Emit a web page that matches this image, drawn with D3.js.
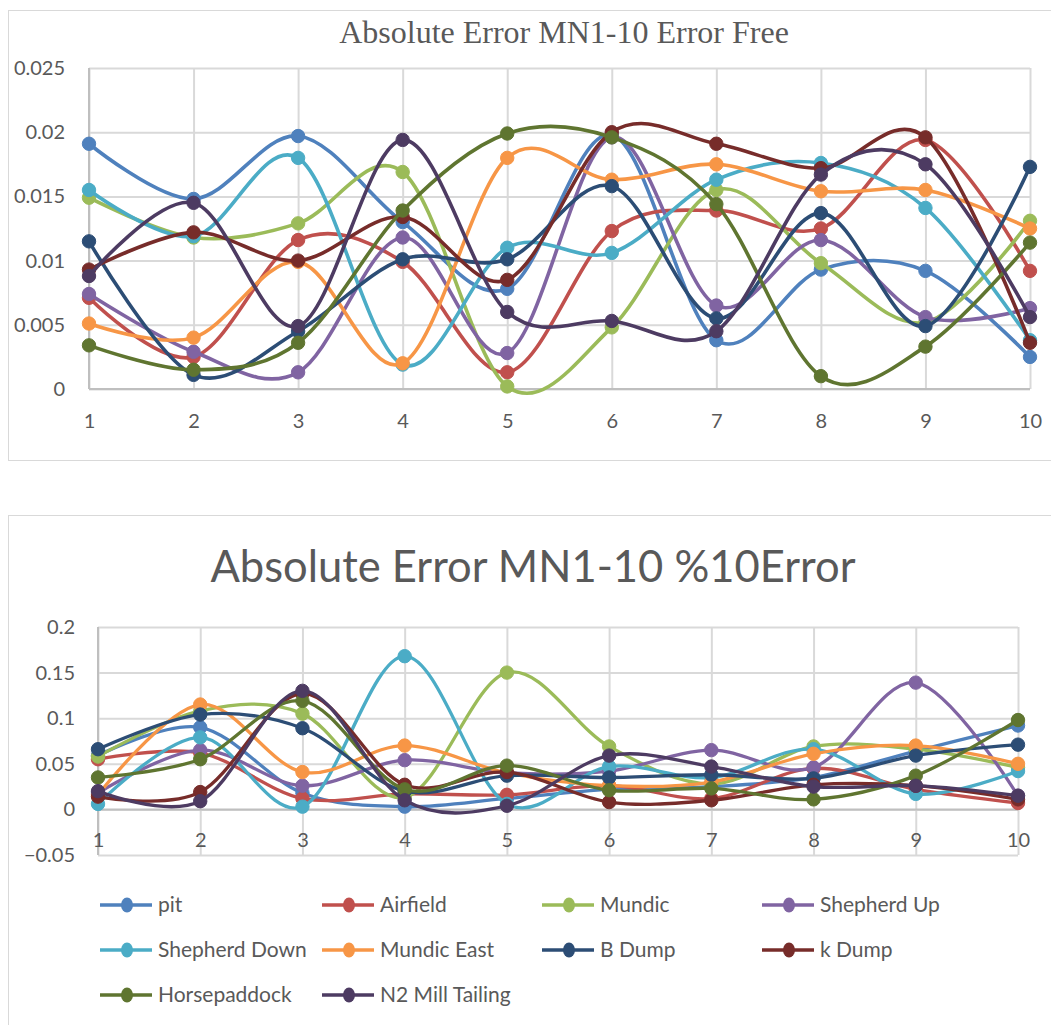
<!DOCTYPE html>
<html>
<head>
<meta charset="utf-8">
<script src="https://cdn.jsdelivr.net/npm/d3@7"></script>
<style>
  html, body { margin: 0; padding: 0; background: #ffffff; }
  svg { display: block; }
</style>
</head>
<body>
<svg id="chart" width="1051" height="1025"></svg>
<script>
// Sample positions along the x axis
const categories = [1, 2, 3, 4, 5, 6, 7, 8, 9, 10];

const seriesNames = ["pit", "Airfield", "Mundic", "Shepherd Up", "Shepherd Down",
  "Mundic East", "B Dump", "k Dump", "Horsepaddock", "N2 Mill Tailing"];

const seriesColors = ["#4F81BD", "#C0504D", "#9BBB59", "#8064A2", "#4BACC6",
  "#F79646", "#2C4D75", "#772C2A", "#5F7530", "#4D3B62"];

// Absolute error, error-free inputs (one row per series, same order as seriesNames)
const errorFreeValues = [
  [0.0191, 0.0148, 0.0197, 0.0130, 0.0078, 0.0198, 0.0038, 0.0093, 0.0092, 0.0025],
  [0.0071, 0.0025, 0.0116, 0.0099, 0.0013, 0.0123, 0.0139, 0.0125, 0.0194, 0.0092],
  [0.0149, 0.0118, 0.0129, 0.0169, 0.0002, 0.0048, 0.0155, 0.0098, 0.0052, 0.0131],
  [0.0074, 0.0029, 0.0013, 0.0118, 0.0028, 0.0196, 0.0065, 0.0116, 0.0056, 0.0063],
  [0.0155, 0.0119, 0.0180, 0.0019, 0.0110, 0.0106, 0.0163, 0.0176, 0.0141, 0.0038],
  [0.0051, 0.0040, 0.0099, 0.0020, 0.0180, 0.0163, 0.0175, 0.0154, 0.0155, 0.0125],
  [0.0115, 0.0011, 0.0045, 0.0101, 0.0101, 0.0158, 0.0055, 0.0137, 0.0049, 0.0173],
  [0.0093, 0.0122, 0.0100, 0.0134, 0.0085, 0.0200, 0.0191, 0.0172, 0.0196, 0.0036],
  [0.0034, 0.0015, 0.0036, 0.0139, 0.0199, 0.0196, 0.0144, 0.0010, 0.0033, 0.0114],
  [0.0088, 0.0145, 0.0049, 0.0194, 0.0060, 0.0053, 0.0045, 0.0167, 0.0175, 0.0056]
];

// Absolute error with 10% input error
const tenPctErrorValues = [
  [0.059, 0.090, 0.018, 0.003, 0.012, 0.022, 0.025, 0.035, 0.064, 0.092],
  [0.055, 0.062, 0.012, 0.017, 0.016, 0.026, 0.012, 0.045, 0.022, 0.007],
  [0.058, 0.108, 0.105, 0.013, 0.150, 0.069, 0.028, 0.069, 0.066, 0.046],
  [0.018, 0.065, 0.026, 0.054, 0.040, 0.042, 0.065, 0.046, 0.139, 0.015],
  [0.006, 0.079, 0.003, 0.168, 0.006, 0.047, 0.035, 0.066, 0.017, 0.042],
  [0.016, 0.115, 0.041, 0.070, 0.040, 0.026, 0.030, 0.061, 0.070, 0.050],
  [0.066, 0.104, 0.089, 0.020, 0.037, 0.035, 0.038, 0.034, 0.059, 0.071],
  [0.014, 0.019, 0.127, 0.027, 0.041, 0.008, 0.010, 0.027, 0.026, 0.011],
  [0.035, 0.055, 0.119, 0.022, 0.048, 0.021, 0.023, 0.011, 0.037, 0.098],
  [0.020, 0.009, 0.130, 0.010, 0.004, 0.059, 0.047, 0.025, 0.026, 0.015]
];

const topTicks = [0, 0.005, 0.01, 0.015, 0.02, 0.025];
const bottomTicks = [-0.05, 0, 0.05, 0.1, 0.15, 0.2];

const svg = d3.select("#chart");
const textColor = "#595959";
const gridColor = "#d9d9d9";
const axisColor = "#bfbfbf";
const sansFont = "Lato, 'Open Sans', sans-serif";

// Chart frames
svg.append("rect").attr("x", 8.5).attr("y", 10.5).attr("width", 1060).attr("height", 450)
  .attr("fill", "#fff").attr("stroke", gridColor);
svg.append("rect").attr("x", 8.5).attr("y", 515.5).attr("width", 1060).attr("height", 530)
  .attr("fill", "#fff").attr("stroke", gridColor);

function drawPanel(opts) {
  const g = svg.append("g");
  const x = d3.scaleLinear().domain([1, 10]).range([opts.x0, opts.x1]);
  const y = d3.scaleLinear().domain(opts.domain).range([opts.y1, opts.y0]);

  // horizontal gridlines
  g.append("g").call(d3.axisLeft(y).tickValues(opts.ticks).tickSize(-(opts.x1 - opts.x0)).tickFormat(""))
    .attr("transform", `translate(${opts.x0},0)`)
    .call(a => a.select(".domain").remove())
    .call(a => a.selectAll("line").attr("stroke", gridColor).attr("stroke-width", 2));

  // vertical gridlines
  g.append("g").call(d3.axisBottom(x).tickValues(categories).tickSize(-(opts.y1 - opts.y0)).tickFormat(""))
    .attr("transform", `translate(0,${opts.y1})`)
    .call(a => a.select(".domain").remove())
    .call(a => a.selectAll("line").attr("stroke", gridColor).attr("stroke-width", 2));

  // axis lines
  g.append("line").attr("x1", opts.x0).attr("x2", opts.x0).attr("y1", opts.y0).attr("y2", opts.y1)
    .attr("stroke", axisColor).attr("stroke-width", 2);
  g.append("line").attr("x1", opts.x0).attr("x2", opts.x1).attr("y1", y(0)).attr("y2", y(0))
    .attr("stroke", axisColor).attr("stroke-width", 2);

  // y tick labels
  const yAxis = g.append("g").attr("transform", `translate(${opts.x0 - opts.yLabelGap},0)`)
    .call(d3.axisLeft(y).tickValues(opts.ticks).tickSize(0).tickFormat(d => d3.format("~g")(d)));
  yAxis.select(".domain").remove();
  yAxis.selectAll("text").attr("fill", textColor).attr("font-family", sansFont)
    .attr("font-size", opts.fontSize).attr("dx", 0);

  // x tick labels
  const xAxis = g.append("g").attr("transform", `translate(0,${y(0) + opts.xLabelGap})`)
    .call(d3.axisBottom(x).tickValues(categories).tickSize(0).tickFormat(d3.format("d")));
  xAxis.select(".domain").remove();
  xAxis.selectAll("text").attr("fill", textColor).attr("font-family", sansFont)
    .attr("font-size", opts.fontSize);

  // series (smoothed lines with markers)
  const line = d3.line().x((d, i) => x(categories[i])).y(d => y(d)).curve(d3.curveCardinal.tension(0));
  opts.values.forEach((vals, s) => {
    const sg = g.append("g");
    sg.append("path").attr("d", line(vals)).attr("fill", "none")
      .attr("stroke", seriesColors[s]).attr("stroke-width", opts.lineWidth)
      .attr("stroke-linecap", "round").attr("stroke-linejoin", "round");
    sg.selectAll("circle").data(vals).join("circle")
      .attr("cx", (d, i) => x(categories[i])).attr("cy", d => y(d))
      .attr("r", opts.radius).attr("fill", seriesColors[s]).attr("stroke", seriesColors[s]);
  });
  return g;
}

drawPanel({
  x0: 89, x1: 1030, y0: 68, y1: 389, domain: [0, 0.025], ticks: topTicks,
  values: errorFreeValues, fontSize: 20, yLabelGap: 21, xLabelGap: 22,
  lineWidth: 3.6, radius: 6.7
});

drawPanel({
  x0: 98, x1: 1018, y0: 627, y1: 855, domain: [-0.05, 0.2], ticks: bottomTicks,
  values: tenPctErrorValues, fontSize: 20, yLabelGap: 20, xLabelGap: 20,
  lineWidth: 3.3, radius: 6.7
});

// Titles
svg.append("text").attr("x", 564).attr("y", 43).attr("text-anchor", "middle")
  .attr("font-family", "'Liberation Serif', 'Times New Roman', serif").attr("font-size", 32)
  .attr("fill", textColor).text("Absolute Error MN1-10 Error Free");

svg.append("text").attr("x", 533).attr("y", 582).attr("text-anchor", "middle")
  .attr("font-family", sansFont).attr("font-size", 43.5)
  .attr("fill", textColor).text("Absolute Error MN1-10 %10Error");

// Legend
const legendCols = [100, 322, 542, 762];
const legendRows = [905, 950, 995];
const legend = svg.append("g");
seriesNames.forEach((name, i) => {
  const lx = legendCols[i % 4];
  const ly = legendRows[Math.floor(i / 4)];
  const item = legend.append("g").attr("transform", `translate(${lx},${ly})`);
  item.append("line").attr("x1", 0).attr("x2", 52).attr("y1", 0).attr("y2", 0)
    .attr("stroke", seriesColors[i]).attr("stroke-width", 3.5);
  item.append("ellipse").attr("cx", 27).attr("cy", 0).attr("rx", 6).attr("ry", 7.5)
    .attr("fill", seriesColors[i]);
  item.append("text").attr("x", 58).attr("y", 0).attr("dy", "0.35em")
    .attr("font-family", sansFont).attr("font-size", 21).attr("fill", textColor)
    .text(name);
});
</script>
</body>
</html>
